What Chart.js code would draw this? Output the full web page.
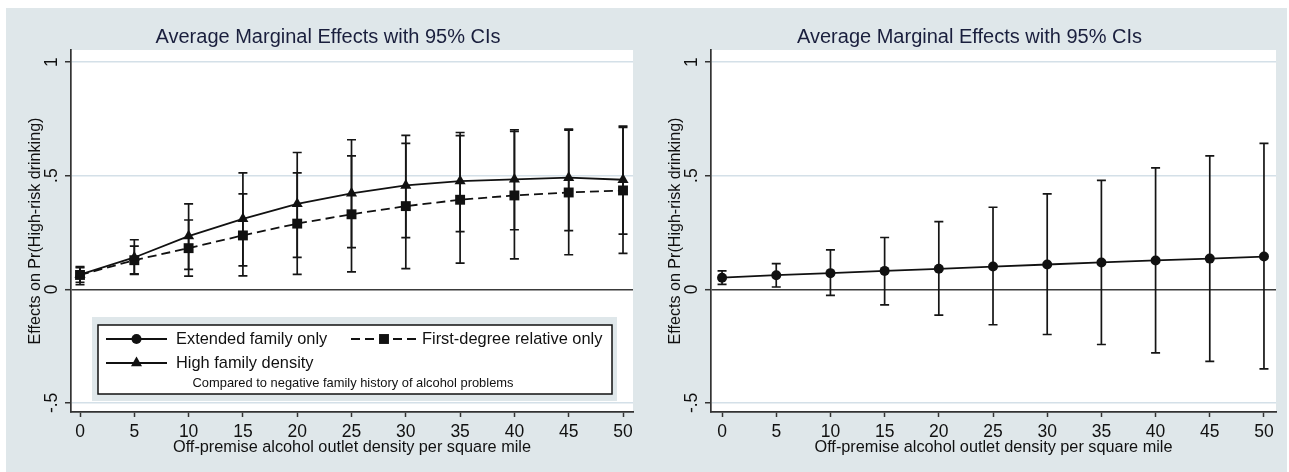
<!DOCTYPE html>
<html>
<head>
<meta charset="utf-8">
<script src="https://cdn.jsdelivr.net/npm/chart.js@4/dist/chart.umd.min.js"></script>
<style>
  html, body { margin: 0; padding: 0; background: #fff; }
  #page { position: absolute; left: 6px; top: 8px; width: 1281px; height: 464px; background: #dfe7ea; }
  .panel { position: absolute; top: 0; height: 464px; }
  #left { left: 0; width: 634px; }
  #right { left: 640px; width: 641px; }
</style>
</head>
<body>
<div id="page">
  <div class="panel" id="left"><canvas id="c1"></canvas></div>
  <div class="panel" id="right"><canvas id="c2"></canvas></div>
</div>
<script>
let xValues = [0, 5, 10, 15, 20, 25, 30, 35, 40, 45, 50]
let xTicks = [0, 5, 10, 15, 20, 25, 30, 35, 40, 45, 50]
let yTicks = [-0.5, 0, 0.5, 1]

let titleText = 'Average Marginal Effects with 95% CIs'
let xTitle = 'Off-premise alcohol outlet density per square mile'
let yTitle = 'Effects on Pr(High-risk drinking)'
let legendNote = 'Compared to negative family history of alcohol problems'

// left panel: high family density (triangles)
let highDensity   = [0.065, 0.140, 0.234, 0.310, 0.376, 0.422, 0.457, 0.476, 0.484, 0.491, 0.482]
let highDensityLo = [0.020, 0.066, 0.088, 0.103, 0.140, 0.183, 0.227, 0.254, 0.262, 0.258, 0.243]
let highDensityHi = [0.100, 0.218, 0.376, 0.512, 0.602, 0.658, 0.677, 0.690, 0.702, 0.705, 0.718]

// left panel: first-degree relative only (squares)
let firstDegree   = [0.063, 0.128, 0.181, 0.237, 0.289, 0.330, 0.366, 0.394, 0.413, 0.426, 0.435]
let firstDegreeLo = [0.030, 0.068, 0.058, 0.059, 0.066, 0.077, 0.091, 0.115, 0.134, 0.152, 0.158]
let firstDegreeHi = [0.095, 0.190, 0.305, 0.420, 0.512, 0.587, 0.642, 0.676, 0.695, 0.700, 0.712]

// right panel: extended family only (circles)
let extended   = [0.051, 0.062, 0.071, 0.081, 0.090, 0.100, 0.109, 0.118, 0.127, 0.135, 0.144]
let extendedLo = [0.022, 0.010, -0.027, -0.069, -0.114, -0.156, -0.199, -0.243, -0.280, -0.317, -0.350]
let extendedHi = [0.081, 0.113, 0.173, 0.228, 0.298, 0.361, 0.420, 0.479, 0.534, 0.587, 0.642]

let FONT = 'Liberation Sans, Arial, sans-serif'
let INK = '#111'

let circleStyle = { pointStyle: 'circle', pointRadius: 5, borderDash: [] }
let triangleStyle = { pointStyle: 'triangle', pointRadius: 6.4, borderDash: [] }
let squareStyle = { pointStyle: 'rect', pointRadius: 7, borderDash: [9, 5] }

function points(ys) {
    return xValues.map((x, i) => ({ x: x, y: ys[i] }))
}

function series(label, ys, lo, hi, style) {
    return Object.assign({
        label: label,
        data: points(ys),
        ci: { lo: lo, hi: hi },
        showLine: true,
        borderColor: INK,
        borderWidth: 1.8,
        pointBackgroundColor: INK,
        pointBorderColor: INK,
        pointBorderWidth: 0,
        pointHoverRadius: 0,
        tension: 0
    }, style)
}

function fmtTick(v) {
    return String(v).replace('0.', '.')
}

let ciBars = {
    id: 'ciBars',
    beforeDatasetsDraw(chart) {
        let ctx = chart.ctx, x = chart.scales.x, y = chart.scales.y
        ctx.save()
        ctx.strokeStyle = '#151515'
        ctx.lineWidth = 1.7
        chart.data.datasets.forEach(ds => {
            if (!ds.ci) return
            ds.data.forEach((p, i) => {
                let px = x.getPixelForValue(p.x)
                let top = y.getPixelForValue(ds.ci.hi[i])
                let bot = y.getPixelForValue(ds.ci.lo[i])
                ctx.beginPath()
                ctx.moveTo(px, top); ctx.lineTo(px, bot)
                ctx.moveTo(px - 4.5, top); ctx.lineTo(px + 4.5, top)
                ctx.moveTo(px - 4.5, bot); ctx.lineTo(px + 4.5, bot)
                ctx.stroke()
            })
        })
        ctx.restore()
    }
}

let decor = {
    id: 'decor',
    beforeDraw(chart) {
        let a = chart.chartArea, ctx = chart.ctx
        ctx.save()
        ctx.fillStyle = '#fff'
        ctx.fillRect(a.left, a.top, a.right - a.left, a.bottom - a.top)
        ctx.restore()
    },
    afterDraw(chart) {
        let a = chart.chartArea, ctx = chart.ctx, ys = chart.scales.y
        ctx.save()
        // title
        ctx.fillStyle = '#1a1f3d'
        ctx.font = '20px ' + FONT
        ctx.textAlign = 'center'
        ctx.textBaseline = 'middle'
        ctx.fillText(titleText, (a.left + a.right) / 2 - 24, 29)
        // rotated y tick labels
        ctx.fillStyle = INK
        ctx.font = '17.5px ' + FONT
        ys.ticks.forEach(t => {
            ctx.save()
            ctx.translate(a.left - 19, ys.getPixelForValue(t.value))
            ctx.rotate(-Math.PI / 2)
            ctx.fillText(fmtTick(t.value), 0, 0)
            ctx.restore()
        })
        ctx.restore()
    }
}

function drawSample(ctx, x0, x1, y, ds) {
    ctx.save()
    ctx.strokeStyle = INK
    ctx.lineWidth = 1.8
    ctx.setLineDash(ds.borderDash)
    ctx.beginPath(); ctx.moveTo(x0, y); ctx.lineTo(x1, y); ctx.stroke()
    ctx.setLineDash([])
    ctx.fillStyle = INK
    Chart.helpers.drawPoint(ctx, { pointStyle: ds.pointStyle, radius: ds.pointRadius, borderWidth: 0, rotation: 0 }, (x0 + x1) / 2, y)
    ctx.restore()
}

let stataLegend = {
    id: 'stataLegend',
    afterDraw(chart) {
        let ctx = chart.ctx
        ctx.save()
        ctx.fillStyle = '#dfe7ea'
        ctx.fillRect(86, 309, 525, 84)
        ctx.fillStyle = '#fff'
        ctx.fillRect(92, 317, 514, 69)
        ctx.strokeStyle = '#111'
        ctx.lineWidth = 1.5
        ctx.strokeRect(92, 317, 514, 69)

        drawSample(ctx, 100, 161, 331, circleStyle)
        drawSample(ctx, 345, 411, 331, squareStyle)
        drawSample(ctx, 100, 161, 355, triangleStyle)

        ctx.fillStyle = INK
        ctx.textBaseline = 'middle'
        ctx.textAlign = 'left'
        ctx.font = '16.4px ' + FONT
        ctx.fillText('Extended family only', 170, 331)
        ctx.fillText('First-degree relative only', 416, 331)
        ctx.fillText('High family density', 170, 355)
        ctx.font = '12.9px ' + FONT
        ctx.textAlign = 'center'
        ctx.fillText(legendNote, 347, 375)
        ctx.restore()
    }
}

function makeChart(id, datasets, xMin, xMax, padRight, extraPlugins) {
    return new Chart(document.getElementById(id), {
        type: 'scatter',
        data: { datasets: datasets },
        options: {
            responsive: true,
            maintainAspectRatio: false,
            animation: false,
            devicePixelRatio: 1,
            layout: { padding: { left: 0, top: 42, right: padRight, bottom: 0 } },
            plugins: { legend: { display: false }, tooltip: { enabled: false }, title: { display: false } },
            scales: {
                x: {
                    type: 'linear',
                    min: xMin,
                    max: xMax,
                    afterBuildTicks: s => { s.ticks = xTicks.map(v => ({ value: v })) },
                    afterFit: s => { s.height = 60 },
                    grid: { drawOnChartArea: false, tickLength: 5, tickColor: '#333', tickWidth: 1.5 },
                    border: { color: '#333', width: 1.7 },
                    ticks: { color: INK, font: { family: FONT, size: 17.5 }, padding: 5, maxRotation: 0, autoSkip: false },
                    title: { display: true, text: xTitle, color: INK, font: { family: FONT, size: 16.3 }, padding: { top: 0, bottom: 15 } }
                },
                y: {
                    type: 'linear',
                    min: -0.54,
                    max: 1.053,
                    afterBuildTicks: s => { s.ticks = yTicks.map(v => ({ value: v })) },
                    afterFit: s => { s.width = 65 },
                    grid: {
                        color: c => (c.tick && c.tick.value === 0) ? '#3a3a3a' : '#d4e0e8',
                        lineWidth: c => (c.tick && c.tick.value === 0) ? 1.4 : 1.5,
                        tickLength: 6,
                        tickColor: '#333',
                        tickWidth: 1.5
                    },
                    border: { color: '#333', width: 1.7 },
                    ticks: { display: false },
                    title: { display: true, text: yTitle, color: INK, font: { family: FONT, size: 16.1 }, padding: { top: 20, bottom: 0 } }
                }
            }
        },
        plugins: [decor, ciBars].concat(extraPlugins)
    })
}

makeChart('c1', [
    series('High family density', highDensity, highDensityLo, highDensityHi, triangleStyle),
    series('First-degree relative only', firstDegree, firstDegreeLo, firstDegreeHi, squareStyle)
], -0.83, 50.92, 7, [stataLegend])

makeChart('c2', [
    series('Extended family only', extended, extendedLo, extendedHi, circleStyle)
], -1.02, 51.11, 11, [])
</script>
</body>
</html>
